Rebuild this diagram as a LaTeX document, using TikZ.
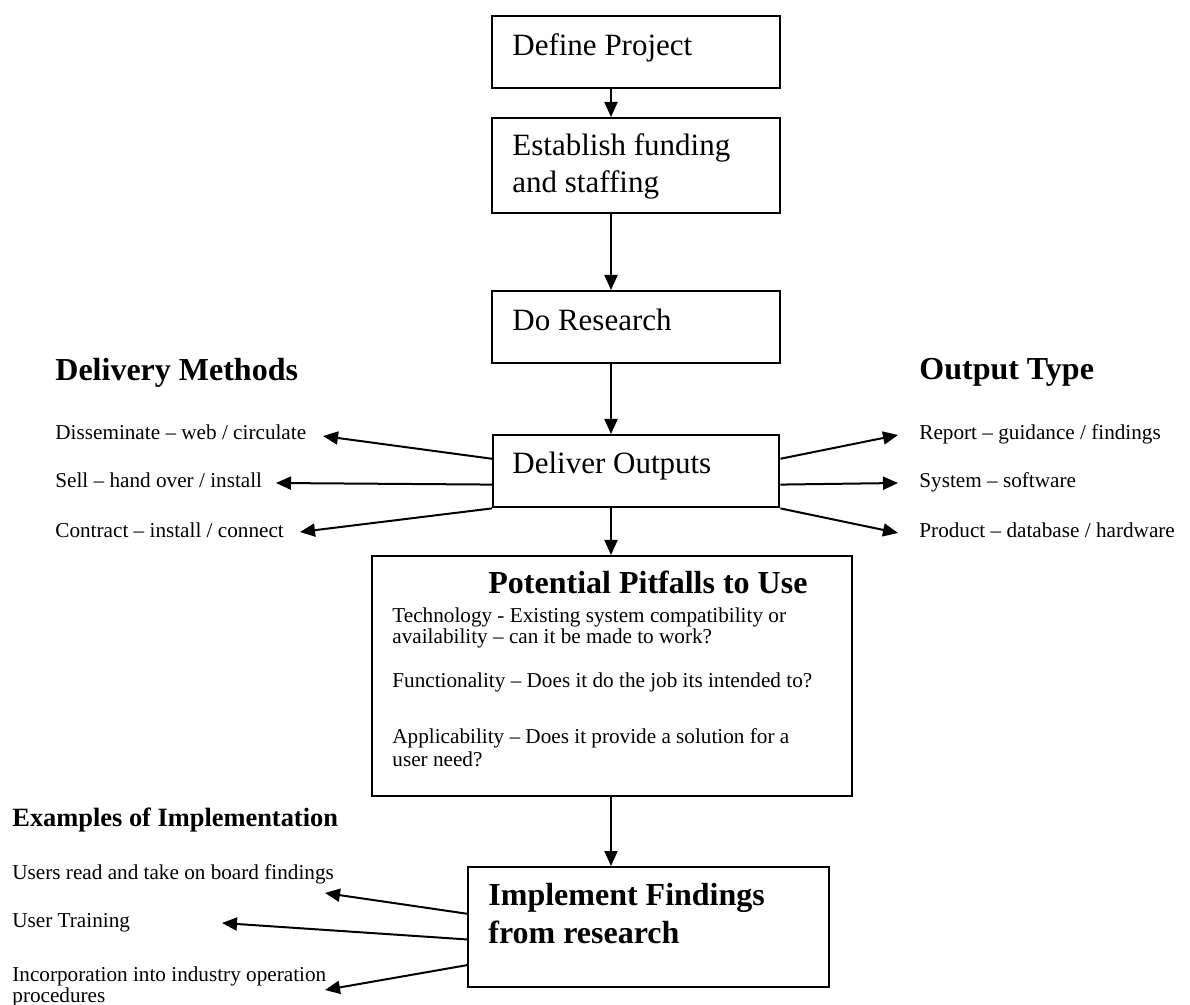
\documentclass[tikz,border=0pt]{standalone}
\usepackage{fontspec}
\setmainfont{Liberation Serif}
\usetikzlibrary{arrows.meta,calc}
\tikzset{
  box/.style={draw,line width=1.2pt,minimum width=#1,inner sep=0pt,anchor=north west},
  arr/.style={line width=1pt,-{Triangle[length=7.5pt,width=6.5pt]}},
  small/.style={anchor=base west,inner sep=0pt,font=\fontsize{10.6}{12.5}\selectfont},
  big/.style={anchor=base west,inner sep=0pt,font=\fontsize{15.5}{18}\selectfont},
  head/.style={anchor=base west,inner sep=0pt,font=\fontsize{16}{18}\selectfont\bfseries},
}
\begin{document}
\begin{tikzpicture}[x=0.5pt,y=-0.5pt]
\useasboundingbox (0,0) rectangle (1190,1005);
% boxes
\node[box=144pt,minimum height=36pt] (define) at (491,15) {};
\node[box=144pt,minimum height=47.5pt] (estab) at (491,117) {};
\node[box=144pt,minimum height=36pt] (research) at (491,290) {};
\node[box=143pt,minimum height=36pt] (deliver) at (492,434) {};
\node[box=240pt,minimum height=120pt] (pitfalls) at (371,555) {};
\node[box=180.5pt,minimum height=60pt] (implement) at (467,866) {};
% box texts
\node[big] (defineT) at (512,56) {Define Project};
\node[big] (estabT1) at (512,156) {Establish funding};
\node[big] (estabT2) at (512,193) {and staffing};
\node[big] (researchT) at (512,331) {Do Research};
\node[big] (deliverT) at (512,474) {Deliver Outputs};
\node[head] (pitT) at (488,594) {Potential Pitfalls to Use};
\node[small] (pit1) at (392,623) {Technology - Existing system compatibility or};
\node[small] (pit2) at (392,644) {availability – can it be made to work?};
\node[small] (pit3) at (392,688) {Functionality – Does it do the job its intended to?};
\node[small] (pit4) at (392,744) {Applicability – Does it provide a solution for a};
\node[small] (pit5) at (392,766) {user need?};
\node[head] (implT1) at (488,905) {Implement Findings};
\node[head] (implT2) at (488,943) {from research};
% headings
\node[head] (delHead) at (55,381) {Delivery Methods};
\node[head] (outHead) at (919,380) {Output Type};
\node[anchor=base west,inner sep=0pt,font=\fontsize{13.2}{15}\selectfont\bfseries] (exHead) at (12,827) {Examples of Implementation};
% side labels
\node[small] (dis) at (55,440) {Disseminate – web / circulate};
\node[small] (sell) at (55,488) {Sell – hand over / install};
\node[small] (contract) at (55,538) {Contract – install / connect};
\node[small] (report) at (919,440) {Report – guidance / findings};
\node[small] (system) at (919,488) {System – software};
\node[small] (product) at (919,538) {Product – database / hardware};
\node[small] (users) at (12,879) {Users read and take on board findings};
\node[small] (training) at (12,927) {User Training};
\node[small] (incorp) at (12,981) {Incorporation into industry operation};
\node[small] (proc) at (12,1002) {procedures};
% coordinates
\coordinate (arrx) at (611,0);
\coordinate (tDis) at (323,436);
\coordinate (tSell) at (276,483);
\coordinate (tCon) at (300,532);
\coordinate (tRep) at (898,435);
\coordinate (tSys) at (898,483);
\coordinate (tProd) at (898,533);
\coordinate (tUsers) at (325,893);
\coordinate (tTrain) at (222,923);
\coordinate (tInc) at (325,990);
% main flow
\draw[arr] (define.south west -| arrx) -- (estab.north west -| arrx);
\draw[arr] (estab.south west -| arrx) -- (research.north west -| arrx);
\draw[arr] (research.south west -| arrx) -- (deliver.north west -| arrx);
\draw[arr] (deliver.south west -| arrx) -- (pitfalls.north west -| arrx);
\draw[arr] (pitfalls.south west -| arrx) -- (implement.north west -| arrx);
% delivery side arrows
\draw[arr] ($(deliver.north west)!0.333!(deliver.south west)$) -- (tDis);
\draw[arr] ($(deliver.north west)!0.68!(deliver.south west)$) -- (tSell);
\draw[arr] (deliver.south west) -- (tCon);
\draw[arr] ($(deliver.north east)!0.333!(deliver.south east)$) -- (tRep);
\draw[arr] ($(deliver.north east)!0.68!(deliver.south east)$) -- (tSys);
\draw[arr] (deliver.south east) -- (tProd);
% implementation arrows
\draw[arr] ($(implement.north west)!0.39!(implement.south west)$) -- (tUsers);
\draw[arr] ($(implement.north west)!0.6!(implement.south west)$) -- (tTrain);
\draw[arr] ($(implement.north west)!0.81!(implement.south west)$) -- (tInc);
\end{tikzpicture}
\end{document}
